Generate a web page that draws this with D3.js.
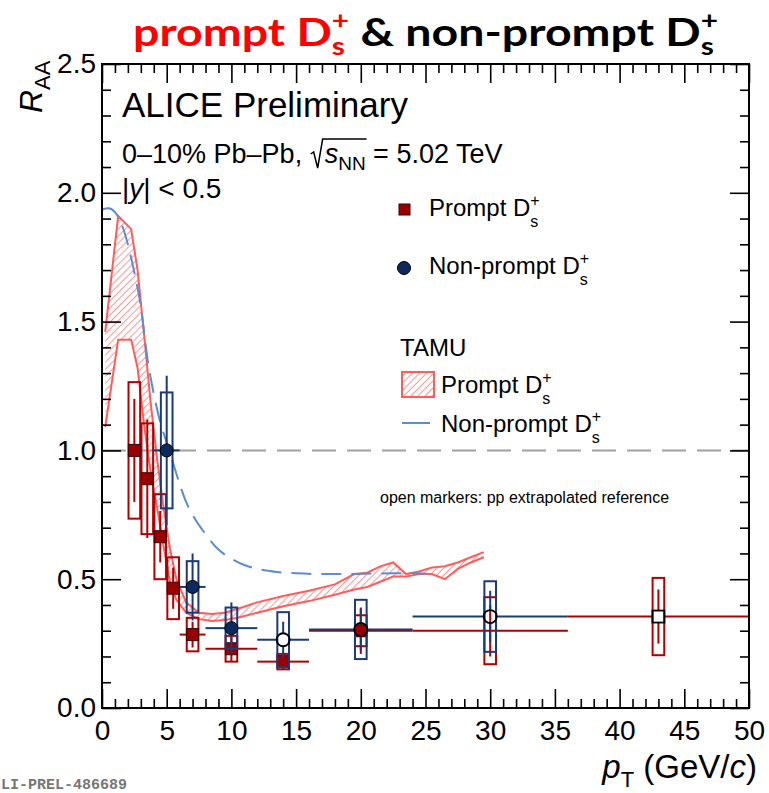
<!DOCTYPE html>
<html>
<head>
<meta charset="utf-8">
<script src="https://cdn.jsdelivr.net/npm/d3@7"></script>
<style>
  body { margin: 0; background: #fff; }
  svg { display: block; }
</style>
</head>
<body>
<svg width="769" height="793"></svg>
<script>
// ---- data ----

// prompt Ds+ RAA (0-10% Pb-Pb)
const promptPt   = [2.5, 3.5, 4.5, 5.5, 7, 10, 14, 20, 30, 43];
const promptLo   = [2, 3, 4, 5, 6, 8, 12, 16, 24, 36];
const promptHi   = [3, 4, 5, 6, 8, 12, 16, 24, 36, 50];
const promptVal  = [1.0, 0.89, 0.665, 0.465, 0.285, 0.23, 0.18, 0.30, 0.30, 0.355];
const promptStat = [0.2, 0.23, 0.1, 0.08, 0.05, 0.05, 0.03, 0.09, 0.1, 0.105];
const promptSyst = [0.265, 0.215, 0.165, 0.12, 0.065, 0.05, 0.03, 0.06, 0.13, 0.15];
// 'filled' = measured pp reference, 'open' = pp extrapolated reference
const promptRef  = ['filled', 'filled', 'filled', 'filled', 'filled', 'filled', 'filled', 'filled', 'none', 'open'];

// non-prompt Ds+ RAA
const nonpromptPt   = [5, 7, 10, 14, 20, 30];
const nonpromptLo   = [4, 6, 8, 12, 16, 24];
const nonpromptHi   = [6, 8, 12, 16, 24, 36];
const nonpromptVal  = [1.0, 0.47, 0.31, 0.265, 0.305, 0.355];
const nonpromptStat = [0.29, 0.13, 0.1, 0.07, 0.08, 0.1];
const nonpromptSyst = [0.225, 0.1, 0.08, 0.107, 0.115, 0.137];
const nonpromptRef  = ['filled', 'filled', 'filled', 'open', 'open', 'open'];

// TAMU prompt Ds+ band
const tamuPromptPt    = [0.25, 1.25, 2.25, 2.75, 3.25, 3.75, 4.25, 4.75, 5.25, 5.75, 6.5, 7.5, 8.5, 9.5, 10.5, 12, 14, 16, 18, 19.5, 20.5, 21.5, 22.5, 23.5, 24.5, 25.5, 26.5, 27.5, 28.5, 29.5];
const tamuPromptHigh  = [1.46, 1.91, 1.86, 1.70, 1.45, 1.19, 0.97, 0.78, 0.62, 0.50, 0.41, 0.37, 0.365, 0.37, 0.385, 0.41, 0.435, 0.455, 0.48, 0.52, 0.525, 0.55, 0.565, 0.52, 0.53, 0.545, 0.55, 0.565, 0.585, 0.605];
const tamuPromptLow   = [1.09, 1.43, 1.43, 1.32, 1.10, 0.92, 0.78, 0.63, 0.49, 0.42, 0.37, 0.345, 0.338, 0.342, 0.35, 0.37, 0.395, 0.415, 0.44, 0.46, 0.47, 0.49, 0.51, 0.51, 0.52, 0.52, 0.50, 0.54, 0.565, 0.585];

// TAMU non-prompt Ds+ curve
const tamuNonpromptPt  = [0, 0.5, 1, 1.5, 2, 2.5, 3, 3.5, 4, 4.5, 5, 5.5, 6, 6.5, 7, 8, 9, 10, 11, 12, 13.5, 15, 17, 19, 21, 23, 25];
const tamuNonpromptVal = [1.935, 1.94, 1.925, 1.88, 1.80, 1.69, 1.56, 1.36, 1.22, 1.11, 1.03, 0.95, 0.87, 0.80, 0.75, 0.675, 0.615, 0.58, 0.555, 0.54, 0.528, 0.523, 0.52, 0.52, 0.522, 0.523, 0.522];

// axis ticks
const xTickValues = [0, 5, 10, 15, 20, 25, 30, 35, 40, 45, 50];
const yTickValues = [0, 0.5, 1.0, 1.5, 2.0, 2.5];

// ---- drawing ----
const svg = d3.select('svg');
const FONT = '"Liberation Sans", Arial, Helvetica, sans-serif';

const promptColor = '#b00000';
const nonpromptColor = '#1b3b78';
const tamuRed = '#ff5c5c';
const tamuBlue = '#5a8dd3';

const x = d3.scaleLinear().domain([0, 50]).range([102, 749]);
const y = d3.scaleLinear().domain([0, 2.5]).range([708, 64]);

const defs = svg.append('defs');
const hatch = defs.append('pattern')
  .attr('id', 'hatch')
  .attr('patternUnits', 'userSpaceOnUse')
  .attr('width', 5)
  .attr('height', 5)
  .attr('patternTransform', 'rotate(45)');
hatch.append('line')
  .attr('x1', 0).attr('y1', 0).attr('x2', 0).attr('y2', 5)
  .attr('stroke', tamuRed)
  .attr('stroke-width', 1.3);

const clip = defs.append('clipPath').attr('id', 'plotclip');
clip.append('rect')
  .attr('x', x(0)).attr('y', y(2.5))
  .attr('width', x(50) - x(0)).attr('height', y(0) - y(2.5));

// rich text: pieces laid out one after another, with sub/sup stacking
function rich(parent, parts, family) {
  const g = parent.append('g');
  let cx = 0;
  let lastX = 0;
  const pos = [];
  parts.forEach(p => {
    if (p.gap) {
      pos.push({ x: cx, w: p.gap });
      cx += p.gap;
      return;
    }
    const px = p.stack ? lastX : cx;
    const t = g.append('text')
      .attr('x', px)
      .attr('y', p.dy || 0)
      .attr('font-family', family)
      .attr('font-size', p.size)
      .attr('font-style', p.italic ? 'italic' : 'normal')
      .attr('font-weight', p.bold ? 700 : 400)
      .attr('fill', p.fill || '#000')
      .style('white-space', 'pre')
      .text(p.t);
    const w = t.node().getComputedTextLength();
    pos.push({ x: px, w: w });
    if (p.stack) {
      cx = Math.max(cx, px + w);
    } else {
      lastX = px;
      cx = px + w;
    }
  });
  return { g: g, width: cx, pos: pos };
}

// title
const TITLE_FONT = 'Lato, "Open Sans", sans-serif';
const title = rich(svg, [
  { t: 'prompt D', size: 39, bold: true, fill: '#ff0000' },
  { t: '+', size: 25, bold: true, fill: '#ff0000', dy: -17 },
  { t: 's', size: 25, bold: true, fill: '#ff0000', dy: 9, stack: true },
  { t: ' & non-prompt D', size: 39, bold: true },
  { t: '+', size: 25, bold: true, dy: -17 },
  { t: 's', size: 25, bold: true, dy: 9, stack: true }
], TITLE_FONT);
title.g.attr('transform', `translate(133,46) scale(${585 / title.width},1)`);

// reference line at RAA = 1
svg.append('line')
  .attr('x1', x(0)).attr('x2', x(50))
  .attr('y1', y(1)).attr('y2', y(1))
  .attr('stroke', '#a0a0a0')
  .attr('stroke-width', 2)
  .attr('stroke-dasharray', '24,11');

const plot = svg.append('g').attr('clip-path', 'url(#plotclip)');

// TAMU prompt band
const bandIdx = d3.range(tamuPromptPt.length);
plot.append('path')
  .datum(bandIdx)
  .attr('fill', 'url(#hatch)')
  .attr('d', d3.area()
    .x(i => x(tamuPromptPt[i]))
    .y0(i => y(tamuPromptLow[i]))
    .y1(i => y(tamuPromptHigh[i])));
[tamuPromptHigh, tamuPromptLow].forEach(edge => {
  plot.append('path')
    .datum(bandIdx)
    .attr('fill', 'none')
    .attr('stroke', tamuRed)
    .attr('stroke-width', 2)
    .attr('d', d3.line()
      .x(i => x(tamuPromptPt[i]))
      .y(i => y(edge[i])));
});

// TAMU non-prompt curve
plot.append('path')
  .datum(d3.range(tamuNonpromptPt.length))
  .attr('fill', 'none')
  .attr('stroke', tamuBlue)
  .attr('stroke-width', 2)
  .attr('stroke-dasharray', '20,10')
  .attr('d', d3.line()
    .curve(d3.curveMonotoneX)
    .x(i => x(tamuNonpromptPt[i]))
    .y(i => y(tamuNonpromptVal[i])));

const boxHalf = 0.45; // half width of syst boxes, in GeV/c
const markHalf = 6;   // marker half size, px

function drawErrors(pt, lo, hi, val, stat, syst, ref, color) {
  const g = plot.append('g');
  const idx = d3.range(pt.length);
  g.selectAll('rect')
    .data(idx)
    .join('rect')
    .attr('x', i => x(pt[i] - boxHalf))
    .attr('width', i => x(pt[i] + boxHalf) - x(pt[i] - boxHalf))
    .attr('y', i => y(val[i] + syst[i]))
    .attr('height', i => y(val[i] - syst[i]) - y(val[i] + syst[i]))
    .attr('fill', 'none')
    .attr('stroke', color)
    .attr('stroke-width', 2);
  // stat and bin-width bars, with a gap where a marker sits
  const segs = [];
  idx.forEach(i => {
    const cx = x(pt[i]);
    const cy = y(val[i]);
    const gap = ref[i] === 'none' ? 0 : markHalf;
    segs.push([cx, y(val[i] + stat[i]), cx, cy - gap]);
    segs.push([cx, cy + gap, cx, y(val[i] - stat[i])]);
    segs.push([x(lo[i]), cy, cx - gap, cy]);
    segs.push([cx + gap, cy, x(hi[i]), cy]);
  });
  g.selectAll('line')
    .data(segs.filter(s => Math.abs(s[2] - s[0]) + Math.abs(s[3] - s[1]) > 0.5))
    .join('line')
    .attr('x1', s => s[0]).attr('y1', s => s[1])
    .attr('x2', s => s[2]).attr('y2', s => s[3])
    .attr('stroke', color)
    .attr('stroke-width', 2);
}

drawErrors(promptPt, promptLo, promptHi, promptVal, promptStat, promptSyst, promptRef, promptColor);

// prompt markers (squares)
plot.append('g')
  .selectAll('rect')
  .data(d3.range(promptPt.length).filter(i => promptRef[i] !== 'none'))
  .join('rect')
  .attr('x', i => x(promptPt[i]) - markHalf)
  .attr('y', i => y(promptVal[i]) - markHalf)
  .attr('width', markHalf * 2)
  .attr('height', markHalf * 2)
  .attr('fill', i => promptRef[i] === 'open' ? 'none' : '#9a0000')
  .attr('stroke', i => promptRef[i] === 'open' ? '#000' : '#3a0000')
  .attr('stroke-width', i => promptRef[i] === 'open' ? 1.8 : 1);

drawErrors(nonpromptPt, nonpromptLo, nonpromptHi, nonpromptVal, nonpromptStat, nonpromptSyst, nonpromptRef, nonpromptColor);

// non-prompt markers (circles)
plot.append('g')
  .selectAll('circle')
  .data(d3.range(nonpromptPt.length))
  .join('circle')
  .attr('cx', i => x(nonpromptPt[i]))
  .attr('cy', i => y(nonpromptVal[i]))
  .attr('r', markHalf + 0.5)
  .attr('fill', i => nonpromptRef[i] === 'open' ? 'none' : '#0c2a5e')
  .attr('stroke', '#000')
  .attr('stroke-width', i => nonpromptRef[i] === 'open' ? 1.8 : 1);

// ---- axes (ROOT style, ticks inside on all four sides) ----
const xMinor = d3.range(0, 51, 1).filter(v => v % 5 !== 0);
const yMinor = d3.range(0, 26, 1).map(v => v / 10).filter(v => Math.round(v * 10) % 5 !== 0);

function styleAxis(g) {
  g.select('.domain').remove();
  g.selectAll('.tick line').attr('stroke', '#000').attr('stroke-width', 1.6);
  g.selectAll('.tick text')
    .attr('font-family', FONT)
    .attr('font-size', 28)
    .attr('fill', '#000');
}

const axes = [
  { fn: d3.axisBottom, scale: x, major: xTickValues, minor: xMinor, tr: `translate(0,${y(0)})`, fmt: d3.format('d') },
  { fn: d3.axisTop, scale: x, major: xTickValues, minor: xMinor, tr: `translate(0,${y(2.5)})`, fmt: null },
  { fn: d3.axisLeft, scale: y, major: yTickValues, minor: yMinor, tr: `translate(${x(0)},0)`, fmt: d3.format('.1f') },
  { fn: d3.axisRight, scale: y, major: yTickValues, minor: yMinor, tr: `translate(${x(50)},0)`, fmt: null }
];
axes.forEach(a => {
  svg.append('g')
    .attr('transform', a.tr)
    .call(a.fn(a.scale).tickValues(a.minor).tickSizeInner(-9).tickSizeOuter(0).tickFormat(''))
    .call(styleAxis);
  svg.append('g')
    .attr('transform', a.tr)
    .call(a.fn(a.scale).tickValues(a.major).tickSizeInner(-19).tickSizeOuter(0)
      .tickPadding(a.fn === d3.axisLeft ? 6 : 12)
      .tickFormat(a.fmt ? a.fmt : ''))
    .call(styleAxis);
});

svg.append('rect')
  .attr('x', x(0)).attr('y', y(2.5))
  .attr('width', x(50) - x(0)).attr('height', y(0) - y(2.5))
  .attr('fill', 'none')
  .attr('stroke', '#000')
  .attr('stroke-width', 2);

// axis titles
const yTitle = rich(svg, [
  { t: 'R', size: 32, italic: true },
  { t: 'AA', size: 22, dy: 8 }
], FONT);
yTitle.g.attr('transform', 'translate(42,113) rotate(-90)');

const xTitle = rich(svg, [
  { t: 'p', size: 33, italic: true },
  { t: 'T', size: 22, dy: 9 },
  { t: ' (GeV/', size: 33 },
  { t: 'c', size: 33, italic: true },
  { t: ')', size: 33 }
], FONT);
xTitle.g.attr('transform', `translate(${757 - xTitle.width},778)`);

// ---- labels ----
svg.append('text')
  .attr('x', 122).attr('y', 117)
  .attr('font-family', FONT).attr('font-size', 35)
  .text('ALICE Preliminary');

const sys = rich(svg, [
  { t: '0\u201310% Pb\u2013Pb, ', size: 27 },
  { gap: 15 },
  { t: 's', size: 27, italic: true },
  { t: 'NN', size: 19, dy: 7 },
  { t: ' = 5.02 TeV', size: 27 }
], FONT);
sys.g.attr('transform', 'translate(122,163)');
{
  const r0 = sys.pos[1].x;
  const rEnd = sys.pos[3].x + sys.pos[3].w + 1;
  sys.g.append('path')
    .attr('d', `M${r0 + 1},-9 L${r0 + 4},-11 L${r0 + 8},5 L${r0 + 13},-24 L${rEnd},-24`)
    .attr('fill', 'none')
    .attr('stroke', '#000')
    .attr('stroke-width', 1.5);
}

rich(svg, [
  { t: '|', size: 28 },
  { t: 'y', size: 28, italic: true },
  { t: '| < 0.5', size: 28 }
], FONT).g.attr('transform', 'translate(122,198)');

// legend
function dsLabel(tx, ty, name) {
  rich(svg, [
    { t: name + ' D', size: 24 },
    { t: '+', size: 16, dy: -10 },
    { t: 's', size: 16, dy: 11, stack: true }
  ], FONT).g.attr('transform', `translate(${tx},${ty})`);
}

svg.append('rect')
  .attr('x', 399).attr('y', 204).attr('width', 11).attr('height', 11)
  .attr('fill', '#9a0000').attr('stroke', '#3a0000');
dsLabel(429, 216, 'Prompt');

svg.append('circle')
  .attr('cx', 404).attr('cy', 268).attr('r', 6.5)
  .attr('fill', '#0c2a5e').attr('stroke', '#000');
dsLabel(429, 274, 'Non-prompt');

svg.append('text')
  .attr('x', 400).attr('y', 356)
  .attr('font-family', FONT).attr('font-size', 24)
  .text('TAMU');

svg.append('rect')
  .attr('x', 402).attr('y', 372).attr('width', 32).attr('height', 25)
  .attr('fill', 'url(#hatch)')
  .attr('stroke', tamuRed)
  .attr('stroke-width', 2);
dsLabel(441, 393, 'Prompt');

svg.append('line')
  .attr('x1', 402).attr('x2', 430).attr('y1', 423).attr('y2', 423)
  .attr('stroke', tamuBlue).attr('stroke-width', 2);
dsLabel(441, 432, 'Non-prompt');

svg.append('text')
  .attr('x', 380).attr('y', 503)
  .attr('font-family', FONT).attr('font-size', 16)
  .text('open markers: pp extrapolated reference');

svg.append('text')
  .attr('x', 1).attr('y', 789)
  .attr('font-family', '"Liberation Mono", "DejaVu Sans Mono", monospace')
  .attr('font-weight', 700)
  .attr('font-size', 15)
  .attr('fill', '#777')
  .text('LI-PREL-486689');
</script>
</body>
</html>
